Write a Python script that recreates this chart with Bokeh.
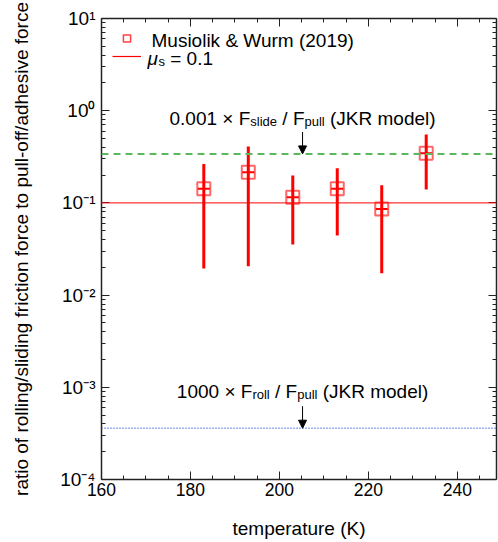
from bokeh.plotting import figure
from bokeh.models import (Range1d, Span, Label, Arrow, NormalHead, Legend, LegendItem,
                          LinearAxis, LogAxis, CustomJSTickFormatter, FixedTicker,
                          ColumnDataSource)
from bokeh.embed import file_html
from bokeh.resources import INLINE

# ---------------- data ----------------
temperature = [183, 193, 203, 213, 223, 233]
ratio = [0.142, 0.215, 0.115, 0.142, 0.086, 0.346]
ratio_low = [0.0194, 0.0206, 0.0354, 0.0443, 0.0173, 0.140]
ratio_high = [0.265, 0.41, 0.198, 0.238, 0.155, 0.552]
mu_s = 0.1
slide_ratio = 0.34      # 0.001 x F_slide / F_pull (JKR model)
roll_ratio = 3.6e-4     # 1000 x F_roll / F_pull (JKR model)
arrow_temperature = 205.2
x_ticks = [160, 180, 200, 220, 240]
y_decades = [1, 0, -1, -2, -3, -4]
series_label = "Musiolik & Wurm (2019)"
x_label = "temperature (K)"
y_label = "ratio of rolling/sliding friction force to pull-off/adhesive force"

# ---------------- style ----------------
FONT = "Liberation Sans"
RED = "#ff0000"
GREEN = "#5cb85c"
BLUE = "#3a62e0"
AX = "#222222"
NAN = float("nan")

X0, X1 = 160, 248.8
Y0, Y1 = 1e-4, 10.0

p = figure(width=498, height=542, x_range=Range1d(X0, X1), y_range=Range1d(Y0, Y1),
           y_axis_type="log", output_backend="svg", toolbar_location=None,
           min_border_left=101, min_border_right=2, min_border_top=18, min_border_bottom=63)
p.grid.visible = False
p.outline_line_color = None
p.background_fill_color = "white"
p.border_fill_color = "white"

empty = CustomJSTickFormatter(code="return ''")
xticker = FixedTicker(ticks=x_ticks, minor_ticks=list(range(160, 250, 5)))
ymajor = [10.0 ** k for k in y_decades]
yminor = [m * 10.0 ** k for k in range(-4, 1) for m in range(2, 10)]
yticker = FixedTicker(ticks=ymajor, minor_ticks=yminor)

pow10 = CustomJSTickFormatter(code="""
const sup = {'0':'\u2070','1':'\u00b9','2':'\u00b2','3':'\u00b3','4':'\u2074','5':'\u2075',
             '6':'\u2076','7':'\u2077','8':'\u2078','9':'\u2079','-':'\u207b'};
const e = Math.round(Math.log10(tick));
return '10' + String(e).split('').map(c => sup[c]).join('');
""")


def style_axis(ax):
    ax.axis_line_color = AX
    ax.axis_line_width = 1.5
    ax.major_tick_line_color = AX
    ax.minor_tick_line_color = AX
    ax.major_tick_in = 8
    ax.major_tick_out = 0
    ax.minor_tick_in = 4
    ax.minor_tick_out = 0


xa = p.xaxis[0]
xa.ticker = xticker
style_axis(xa)
xa.major_label_text_font = FONT
xa.major_label_text_font_size = "17.5px"
xa.major_label_text_color = "black"
xa.major_label_standoff = 3
xa.axis_label = x_label
xa.axis_label_text_font = FONT
xa.axis_label_text_font_size = "19px"
xa.axis_label_text_font_style = "normal"
xa.axis_label_text_color = "black"
xa.axis_label_standoff = 19

ya = p.yaxis[0]
ya.ticker = yticker
ya.formatter = pow10
style_axis(ya)
ya.major_label_text_font = FONT
ya.major_label_text_font_size = "19px"
ya.major_label_text_color = "black"
ya.major_label_standoff = 6
ya.axis_label = y_label
ya.axis_label_text_font = FONT
ya.axis_label_text_font_size = "19px"
ya.axis_label_text_font_style = "normal"
ya.axis_label_text_color = "black"
ya.axis_label_standoff = 25

top = LinearAxis(ticker=xticker, formatter=empty, major_label_text_font_size="0px",
                 major_label_standoff=0)
style_axis(top)
p.add_layout(top, "above")
right = LogAxis(ticker=yticker, formatter=empty, major_label_text_font_size="0px",
                major_label_standoff=0)
style_axis(right)
p.add_layout(right, "right")

# reference lines
p.add_layout(Span(location=mu_s, dimension="width", line_color=RED, line_width=1))
p.add_layout(Span(location=slide_ratio, dimension="width", line_color=GREEN,
                  line_width=2, line_dash="7 5"))
p.add_layout(Span(location=roll_ratio, dimension="width", line_color=BLUE,
                  line_width=1.5, line_dash="1 2"))

# data
src = ColumnDataSource(dict(t=temperature, r=ratio, lo=ratio_low, hi=ratio_high))
p.segment(x0="t", y0="lo", x1="t", y1="hi", source=src, line_color=RED, line_width=3)
p.scatter(x="t", y="r", source=src, marker="square", size=13, fill_color=None,
          line_color=RED, line_alpha=0.6, line_width=2)
p.scatter(x="t", y="r", source=src, marker="dash", size=12, line_color=RED, line_width=2)

# legend swatches (texts drawn separately so that the subscript can be shown);
# the swatch renderers hold a single NaN point so they draw nothing in the plot
leg_sq = p.scatter(x=[NAN], y=[NAN], marker="square", fill_color=None, line_color=RED,
                   line_alpha=0.75, line_width=1.5)
leg_ln = p.line(x=[NAN, NAN], y=[NAN, NAN], line_color=RED, line_width=1.2)
legend = Legend(items=[LegendItem(label="\u00a0", renderers=[leg_sq]),
                       LegendItem(label="\u00a0", renderers=[leg_ln])],
                location="top_left", margin=3, padding=8, spacing=0,
                glyph_width=29, glyph_height=18, label_height=18, label_width=1,
                label_text_font_size="2px", label_standoff=0,
                border_line_alpha=0, background_fill_alpha=0)
p.add_layout(legend)

# Arial / Liberation Sans advance widths (em/1000)
W = {'0': 556, '1': 556, '.': 278, ' ': 278, '×': 584, 'F': 611, 's': 500, 'l': 222,
     'i': 222, 'd': 556, 'e': 556, '/': 278, 'p': 556, 'u': 556, '(': 333, ')': 333,
     'J': 500, 'K': 667, 'R': 722, 'm': 833, 'o': 556, 'r': 333, '=': 584, 'μ': 576}

LIFT = 7  # vertical correction of the text baseline (screen px)


def width(s, size):
    return sum(W.get(c, 556) for c in s) * size / 1000.0


def rich_text(x, y, pieces, x0_off, y_off, center=False):
    total = sum(width(t, sz) for t, sz, _, _ in pieces)
    xo = x0_off - (total / 2.0 if center else 0.0)
    for t, sz, dy, style in pieces:
        lead = len(t) - len(t.lstrip(" "))
        xo += width(" " * lead, sz)
        core = t.strip(" ")
        p.add_layout(Label(x=x, y=y, x_offset=xo, y_offset=y_off + dy + LIFT, text=core,
                           text_align="left", text_baseline="alphabetic",
                           text_font=FONT, text_font_size=f"{sz}px",
                           text_font_style=style, text_color="black"))
        xo += width(t.lstrip(" "), sz)


# legend texts
rich_text(X0, Y1, [(series_label, 19, 0, "normal")], 50, -28.5)
rich_text(X0, Y1, [("μ", 19, 0, "italic"), ("s", 13, -3, "normal"),
                   (" = 0.1", 19, 0, "normal")], 46, -46.5)

# model annotations with arrows
rich_text(arrow_temperature, slide_ratio,
          [("0.001 × F", 19, 0, "normal"), ("slide", 13, -3, "normal"),
           (" / F", 19, 0, "normal"), ("pull", 13, -3, "normal"),
           (" (JKR model)", 19, 0, "normal")], 0, 28, center=True)
rich_text(arrow_temperature, roll_ratio,
          [("1000 × F", 19, 0, "normal"), ("roll", 13, -3, "normal"),
           (" / F", 19, 0, "normal"), ("pull", 13, -3, "normal"),
           (" (JKR model)", 19, 0, "normal")], 0, 30, center=True)

ppd = 461.0 / 5.0  # pixels per decade of the frame
for val in (slide_ratio, roll_ratio):
    p.add_layout(Arrow(end=NormalHead(size=8, fill_color="black", line_color="black"),
                       x_start=arrow_temperature, y_start=val * 10 ** (22.0 / ppd),
                       x_end=arrow_temperature, y_end=val,
                       line_color="black", line_width=1))

open("out.html", "w").write(file_html(p, INLINE))
